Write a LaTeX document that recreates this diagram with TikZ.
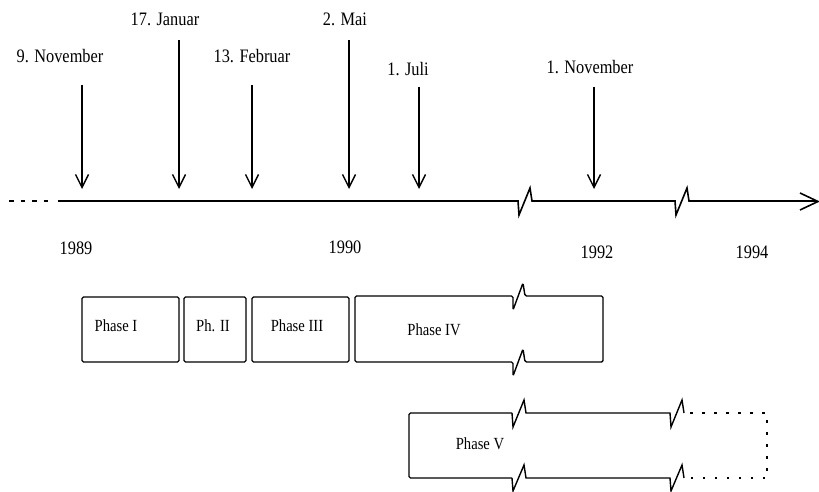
\documentclass[tikz,border=0pt]{standalone}
\usepackage{fontspec}
\setmainfont{Liberation Serif}
\newfontfamily\condfont[FakeStretch=0.86]{Liberation Serif}
\usetikzlibrary{arrows.meta}
\begin{document}
\begin{tikzpicture}[x=1pt,y=-1pt,
  lbl/.style={font=\condfont\fontsize{19}{19}\selectfont, inner sep=0pt, anchor=base},
  ph/.style={font=\condfont\fontsize{17}{17}\selectfont, inner sep=0pt, anchor=base},
  down/.style={line width=1.4pt, -{Straight Barb[length=13pt,width=13pt,line width=1.4pt]}},
  tl/.style={line width=1.6pt, line join=miter},
  box/.style={line width=1.4pt, rounded corners=1.5pt},
  dots/.style={line width=2pt, dash pattern=on 4.5pt off 7pt},
  fdots/.style={line width=2.4pt, dash pattern=on 2.5pt off 9.5pt}]
\useasboundingbox (0,0) rectangle (819,492);
% date labels
\node[lbl] (nov89) at (60,63) {9. November};
\node[lbl] (jan)   at (165,26) {17. Januar};
\node[lbl] (feb)   at (252,63) {13. Februar};
\node[lbl] (mai)   at (345,26) {2. Mai};
\node[lbl] (jul)   at (408,76) {1. Juli};
\node[lbl] (nov92) at (590,74) {1. November};
% arrow coordinates
\coordinate (t1) at (82,85);  \coordinate (h1) at (82,189);
\coordinate (t2) at (179,40); \coordinate (h2) at (179,189);
\coordinate (t3) at (252,85); \coordinate (h3) at (252,189);
\coordinate (t4) at (349,40); \coordinate (h4) at (349,189);
\coordinate (t5) at (419,87); \coordinate (h5) at (419,189);
\coordinate (t6) at (594,87); \coordinate (h6) at (594,189);
\foreach \i in {1,...,6} \draw[down] (t\i) -- (h\i);
% time line
\draw[dots] (9,201) -- (54,201);
\draw[tl] (58,201) -- (518,201) -- (519,215) -- (530,188) -- (532,201)
  -- (675,201) -- (676,215) -- (687,188) -- (689,201) -- (816,201);
\draw[line width=1.6pt] (800,193) -- (818,201.5) -- (800,210);
% years
\node[lbl] (y89) at (76,254) {1989};
\node[lbl] (y90) at (345,253) {1990};
\node[lbl] (y92) at (597,258) {1992};
\node[lbl] (y94) at (752,258) {1994};
% phase boxes
\draw[box] (82,297) rectangle (179,362);
\draw[box] (184,297) rectangle (246,362);
\draw[box] (252,297) rectangle (349,362);
\draw[box] (355,296) -- (513,296) -- (513,310) -- (523,283) -- (525,296)
  -- (603,296) -- (603,362) -- (525,362) -- (523,349) -- (513,376)
  -- (513,362) -- (355,362) -- cycle;
\node[ph] (p1) at (116,331) {Phase I};
\node[ph] (p2) at (213,331) {Ph. II};
\node[ph] (p3) at (297,331) {Phase III};
\node[ph] (p4) at (434,335) {Phase IV};
% phase V
\draw[box] (512,413) -- (409,413) -- (409,478) -- (512,478);
\draw[tl, line width=1.4pt] (512,413) -- (513,427) -- (524,400) -- (526,413) -- (670,413)
  -- (671,427) -- (682,400) -- (684,413);
\draw[tl, line width=1.4pt] (512,478) -- (513,491) -- (524,465) -- (526,478) -- (670,478)
  -- (671,491) -- (682,465) -- (684,478);
\draw[fdots] (690,413) -- (767,413) -- (767,478) -- (690,478);
\node[ph] (p5) at (480,449) {Phase V};
\end{tikzpicture}
\end{document}
